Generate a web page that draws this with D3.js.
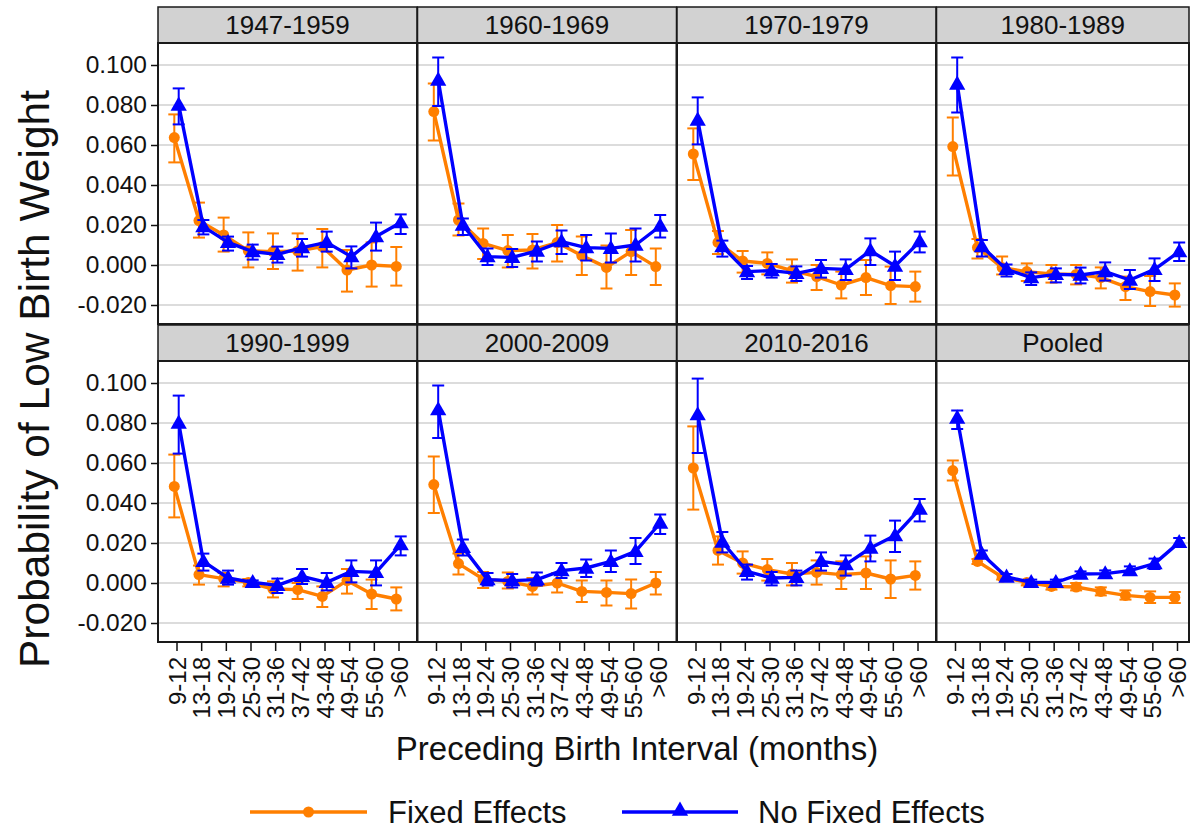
<!DOCTYPE html>
<html>
<head>
<meta charset="utf-8">
<script src="https://cdn.jsdelivr.net/npm/d3@7"></script>
<style>
  html, body { margin: 0; padding: 0; background: #fff; }
  svg { display: block; font-family: "Liberation Sans", Arial, Helvetica, sans-serif; }
</style>
</head>
<body>
<svg id="chart" width="1190" height="829"></svg>
<script>
const categories = ["9-12","13-18","19-24","25-30","31-36","37-42","43-48","49-54","55-60",">60"];
const panels = ["1947-1959","1960-1969","1970-1979","1980-1989","1990-1999","2000-2009","2010-2016","Pooled"];
const yTicks = [0.1, 0.08, 0.06, 0.04, 0.02, 0, -0.02];
const yTickLabels = ["0.100","0.080","0.060","0.040","0.020","0.000","-0.020"];
const seriesNames = ["Fixed Effects", "No Fixed Effects"];

const feEst = [
  [0.0637,0.0222,0.015,0.0072,0.0067,0.007,0.0092,-0.0025,0.0,-0.0007],
  [0.0767,0.0225,0.0108,0.0072,0.0075,0.0112,0.0047,-0.0012,0.0067,-0.0008],
  [0.0555,0.0113,0.002,0.0008,-0.0028,-0.0058,-0.01,-0.0063,-0.0103,-0.0108],
  [0.0592,0.0087,-0.0013,-0.0033,-0.0045,-0.0047,-0.0063,-0.0108,-0.0133,-0.015],
  [0.0483,0.0042,0.0022,0.0003,-0.003,-0.0033,-0.0067,0.0012,-0.0055,-0.008],
  [0.0492,0.0097,0.002,0.0008,-0.0017,0.0,-0.0042,-0.0047,-0.0053,0.0],
  [0.0575,0.0163,0.01,0.0067,0.0045,0.0053,0.0042,0.005,0.002,0.0038],
  [0.0562,0.0108,0.003,0.0003,-0.0017,-0.002,-0.0042,-0.0062,-0.0072,-0.0072]
];
const feHi = [
  [0.0753,0.0312,0.0237,0.0163,0.0158,0.0158,0.018,0.0075,0.0113,0.009],
  [0.0908,0.0308,0.0183,0.015,0.0155,0.02,0.0142,0.0097,0.0175,0.0083],
  [0.0683,0.017,0.007,0.0063,0.0028,0.0,-0.0033,0.0025,-0.0008,-0.0033],
  [0.0737,0.013,0.0042,0.0008,0.0,0.0,-0.0012,-0.0058,-0.0055,-0.0092],
  [0.0642,0.0087,0.005,0.002,0.0008,0.0,-0.0017,0.007,0.0017,-0.0022],
  [0.0633,0.0147,0.0055,0.0053,0.0025,0.005,0.0012,0.0012,0.0017,0.0055],
  [0.0783,0.0233,0.0158,0.012,0.01,0.0113,0.0108,0.0133,0.0113,0.0108],
  [0.0612,0.012,0.0042,0.0013,0.0,0.0,-0.0022,-0.0037,-0.0042,-0.0045]
];
const feLo = [
  [0.0513,0.0137,0.0067,-0.0012,-0.002,-0.0028,-0.0012,-0.0133,-0.0108,-0.0103],
  [0.0622,0.0147,0.003,-0.0013,-0.0017,0.0017,-0.005,-0.0117,-0.005,-0.01],
  [0.0425,0.0055,-0.0038,-0.0047,-0.0088,-0.0125,-0.0167,-0.015,-0.0195,-0.0183],
  [0.0447,0.0033,-0.0047,-0.008,-0.0088,-0.0097,-0.0117,-0.0175,-0.0205,-0.0208],
  [0.0328,-0.0008,-0.0017,-0.0017,-0.0072,-0.008,-0.012,-0.0053,-0.013,-0.0137],
  [0.035,0.0042,-0.0025,-0.0028,-0.0058,-0.0047,-0.0095,-0.0112,-0.0128,-0.0058],
  [0.0367,0.0092,0.0047,0.0012,-0.0012,-0.0008,-0.003,-0.003,-0.0075,-0.0033],
  [0.0512,0.0095,0.0017,-0.0012,-0.0033,-0.0037,-0.0062,-0.0083,-0.01,-0.01]
];
const nfeEst = [
  [0.08,0.0192,0.0113,0.0067,0.0053,0.0087,0.0113,0.0042,0.0142,0.0212],
  [0.0925,0.02,0.0042,0.0038,0.007,0.0117,0.0087,0.0083,0.01,0.0195],
  [0.0725,0.0092,-0.0033,-0.0028,-0.0042,-0.0017,-0.0022,0.0072,-0.0005,0.0117],
  [0.0905,0.0092,-0.0022,-0.0063,-0.0047,-0.005,-0.0033,-0.0075,-0.0022,0.0067],
  [0.08,0.0108,0.0025,0.0003,-0.0012,0.0033,0.0003,0.0058,0.0053,0.0192],
  [0.0867,0.0178,0.0017,0.0012,0.0017,0.0062,0.0075,0.0108,0.0158,0.03],
  [0.0842,0.0205,0.0058,0.0025,0.0028,0.0108,0.0092,0.0175,0.0237,0.037],
  [0.0825,0.0145,0.003,0.0003,0.0003,0.0045,0.0047,0.0062,0.0097,0.0203]
];
const nfeHi = [
  [0.0883,0.0225,0.0142,0.0102,0.0092,0.013,0.0167,0.0093,0.0212,0.0253],
  [0.1038,0.0233,0.0083,0.008,0.0117,0.0172,0.015,0.0158,0.0183,0.025],
  [0.0838,0.0122,-0.0005,0.0005,-0.0007,0.0025,0.0028,0.0133,0.0067,0.0167],
  [0.1037,0.0125,0.0003,-0.0037,-0.0017,-0.0013,0.0013,-0.0025,0.0033,0.0112],
  [0.0937,0.0147,0.0062,0.0013,0.0022,0.007,0.005,0.0113,0.0113,0.0233],
  [0.0988,0.0217,0.005,0.0045,0.0053,0.01,0.0117,0.0162,0.0225,0.0342],
  [0.1022,0.0255,0.0092,0.0055,0.0062,0.0153,0.0138,0.0237,0.0312,0.042],
  [0.0863,0.0163,0.0045,0.0017,0.0017,0.0058,0.0063,0.0083,0.0122,0.0225]
];
const nfeLo = [
  [0.0703,0.0153,0.0072,0.0027,0.0012,0.0042,0.0067,-0.0017,0.0072,0.0155],
  [0.0795,0.015,0.0,-0.001,0.0017,0.0055,0.0023,0.0012,0.0017,0.0138],
  [0.0603,0.0042,-0.007,-0.0063,-0.008,-0.0063,-0.0075,0.0,-0.0075,0.0063],
  [0.0763,0.0042,-0.0058,-0.01,-0.0087,-0.0092,-0.0078,-0.012,-0.008,0.002],
  [0.0647,0.0062,-0.0008,-0.0008,-0.005,-0.0005,-0.0037,0.0003,-0.0012,0.0138],
  [0.0725,0.0137,-0.0012,-0.0022,-0.0012,0.0025,0.003,0.0055,0.0095,0.0245],
  [0.065,0.0153,0.0017,-0.0012,-0.0012,0.0062,0.0037,0.0108,0.0155,0.0308],
  [0.077,0.013,0.0017,-0.0005,-0.0008,0.003,0.003,0.0042,0.007,0.018]
];

// ---------- layout & styles ----------
const ORANGE = "#ff7f00", BLUE = "#0000ff";
const GRID = "#dcdcdc", STRIP = "#d2d2d2", BORDER = "#1a1a1a";
const FONT = '"Liberation Sans", Arial, Helvetica, sans-serif';
const left = 158, colW = 259.5, panelW = 259, stripH = 36, plotH = 281;
const rowTop = [7, 325];
const rightLimit = 1189;
const dodge = 2.2;

const svg = d3.select("#chart");

const x = d3.scalePoint().domain(categories).range([0, panelW]).padding(0.75);
const y = d3.scaleLinear().domain([-0.0295, 0.111]).range([plotH, 0]);

const series = [
  {name: seriesNames[0], est: feEst, lo: feLo, hi: feHi, color: ORANGE, off: -dodge, shape: "circle"},
  {name: seriesNames[1], est: nfeEst, lo: nfeLo, hi: nfeHi, color: BLUE, off: dodge, shape: "triangle"}
];
const circleSym = d3.symbol().type(d3.symbolCircle).size(95);
const triSym = d3.symbol().type(d3.symbolTriangle).size(115);

panels.forEach((title, p) => {
  const col = p % 4, row = Math.floor(p / 4);
  const x0 = left + col * colW;
  const y0 = rowTop[row];
  const w = Math.min(panelW, rightLimit - x0);
  const g = svg.append("g").attr("transform", `translate(${x0},${y0})`);

  // strip
  g.append("rect").attr("x", 0).attr("y", 0).attr("width", w).attr("height", stripH)
    .attr("fill", STRIP).attr("stroke", BORDER).attr("stroke-width", 1.5);
  g.append("text").attr("x", w / 2).attr("y", stripH / 2).attr("dy", "0.36em")
    .attr("text-anchor", "middle").attr("font-size", 26).attr("fill", "#111").text(title);

  const pg = g.append("g").attr("transform", `translate(0,${stripH})`);
  pg.append("rect").attr("width", w).attr("height", plotH).attr("fill", "#fff");
  const clipId = "clip" + p;
  pg.append("clipPath").attr("id", clipId).append("rect").attr("width", w).attr("height", plotH);

  // grid
  pg.selectAll("line.grid").data(yTicks).join("line").attr("class", "grid")
    .attr("x1", 0).attr("x2", w).attr("y1", d => y(d)).attr("y2", d => y(d))
    .attr("stroke", GRID).attr("stroke-width", 2);

  const dg = pg.append("g").attr("clip-path", `url(#${clipId})`);
  series.forEach(s => {
    const pts = categories.map((c, i) => ({c, est: s.est[p][i], lo: s.lo[p][i], hi: s.hi[p][i]}));
    const px = d => x(d.c) + s.off;
    // error bars
    const eb = dg.append("g").attr("stroke", s.color).attr("stroke-width", 2).attr("fill", "none");
    eb.selectAll("line.v").data(pts).join("line").attr("class", "v")
      .attr("x1", px).attr("x2", px).attr("y1", d => y(d.lo)).attr("y2", d => y(d.hi));
    eb.selectAll("line.t").data(pts).join("line").attr("class", "t")
      .attr("x1", d => px(d) - 6).attr("x2", d => px(d) + 6).attr("y1", d => y(d.hi)).attr("y2", d => y(d.hi));
    eb.selectAll("line.b").data(pts).join("line").attr("class", "b")
      .attr("x1", d => px(d) - 6).attr("x2", d => px(d) + 6).attr("y1", d => y(d.lo)).attr("y2", d => y(d.lo));
    // line
    dg.append("path").datum(pts)
      .attr("d", d3.line().x(px).y(d => y(d.est)))
      .attr("fill", "none").attr("stroke", s.color).attr("stroke-width", 3.4).attr("stroke-linejoin", "round");
    // markers
    dg.selectAll(null).data(pts).join("path")
      .attr("transform", d => `translate(${px(d)},${y(d.est) + (s.shape === "triangle" ? 1 : 0)})`)
      .attr("d", s.shape === "circle" ? circleSym : triSym)
      .attr("fill", s.color);
  });

  // border
  pg.append("rect").attr("width", w).attr("height", plotH).attr("fill", "none")
    .attr("stroke", BORDER).attr("stroke-width", 2);

  // y axis on left column
  if (col === 0) {
    const ax = pg.append("g").call(
      d3.axisLeft(y).tickValues(yTicks).tickSize(7).tickPadding(4)
        .tickFormat((d, i) => yTickLabels[i])
    );
    ax.select(".domain").remove();
    ax.selectAll(".tick line").attr("stroke", "#111").attr("stroke-width", 1.5);
    ax.selectAll(".tick text").attr("font-size", 24.5).attr("fill", "#111")
      .attr("font-family", FONT);
  }
  // x axis on bottom row
  if (row === 1) {
    const ax = pg.append("g").attr("transform", `translate(0,${plotH})`).call(
      d3.axisBottom(x).tickSize(9).tickPadding(5)
    );
    ax.select(".domain").remove();
    ax.selectAll(".tick line").attr("stroke", "#111").attr("stroke-width", 1.5);
    ax.selectAll(".tick text")
      .attr("font-size", 24).attr("fill", "#111")
      .attr("font-family", FONT)
      .attr("text-anchor", "end")
      .attr("transform", "rotate(-90)")
      .attr("x", -15).attr("y", 0).attr("dy", "0.36em");
  }
});

// axis titles
svg.append("text")
  .attr("transform", "translate(49,379) rotate(-90)")
  .attr("text-anchor", "middle").attr("font-size", 42.5).attr("fill", "#111")
  .text("Probability of Low Birth Weight");
svg.append("text")
  .attr("x", 637).attr("y", 760).attr("text-anchor", "middle")
  .attr("font-size", 33).attr("fill", "#111")
  .text("Preceding Birth Interval (months)");

// legend
const legendItems = [
  {name: seriesNames[0], color: ORANGE, shape: "circle", x1: 250, x2: 367, tx: 388},
  {name: seriesNames[1], color: BLUE, shape: "triangle", x1: 622, x2: 738, tx: 758}
];
const lg = svg.append("g");
legendItems.forEach(it => {
  lg.append("line").attr("x1", it.x1).attr("x2", it.x2).attr("y1", 812).attr("y2", 812)
    .attr("stroke", it.color).attr("stroke-width", 3.5);
  lg.append("path").attr("transform", `translate(${(it.x1 + it.x2) / 2},${812 + (it.shape === "triangle" ? -1 : 0)})`)
    .attr("d", it.shape === "circle" ? circleSym : triSym).attr("fill", it.color);
  lg.append("text").attr("x", it.tx).attr("y", 812).attr("dy", "0.36em")
    .attr("font-size", 31).attr("fill", "#111").text(it.name);
});
</script>
</body>
</html>
